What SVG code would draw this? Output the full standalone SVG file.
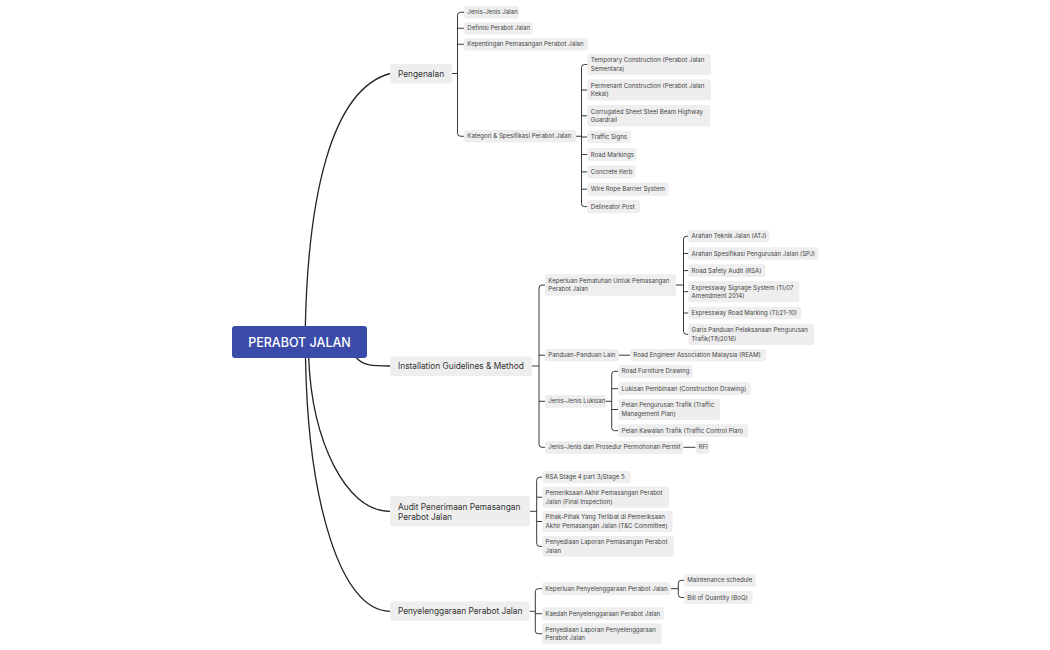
<svg xmlns="http://www.w3.org/2000/svg" width="1050" height="650" viewBox="0 0 1050 650">
<style>
.bg{fill:#ffffff}
.root rect{fill:#3B4BA9}
.root text{fill:#ffffff;font-family:Inter,"Liberation Sans",sans-serif;font-size:12.5px;font-weight:500}
.main rect{fill:#eeeeee}
.main text{fill:#333333;font-family:Inter,"Liberation Sans",sans-serif;font-size:8.3px}
.sub rect{fill:#eeeeee}
.sub text{fill:#444444;font-family:Inter,"Liberation Sans",sans-serif;font-size:6.1px}
#connectors path{fill:none;stroke:#222222;stroke-width:0.9}
#connectors path.big{stroke-width:1.3}
</style>
<rect class="bg" x="0" y="0" width="1050" height="650"/>
<g id="connectors">
<path class="big" d="M305.3,327 C308,200 330,90 390,73.5"/>
<path class="big" d="M356,357.5 C364,366 372,366 390,366"/>
<path class="big" d="M308.7,358 C312,440 345,511.3 390,511.3"/>
<path class="big" d="M305.5,358 C308,500 340,611.3 390,611.3"/>
<!-- Pengenalan -->
<path d="M452,73.5 H457.5 M464,12.25 H460.5 Q457.5,12.25 457.5,15.25 V133.25 Q457.5,136.25 460.5,136.25 H464 M457.5,28.25 H464 M457.5,44.25 H464"/>
<!-- Kategori -->
<path d="M576,136.25 H581.5 M587.3,64.5 H584.5 Q581.5,64.5 581.5,67.5 V203.6 Q581.5,206.6 584.5,206.6 H587.3 M581.5,90 H587.3 M581.5,115.8 H587.3 M581.5,137 H587.3 M581.5,154.5 H587.3 M581.5,171.9 H587.3 M581.5,189.2 H587.3"/>
<!-- Installation -->
<path d="M532,366 H539 M545,285 H542 Q539,285 539,288 V444.3 Q539,447.3 542,447.3 H545 M539,355.2 H545 M539,401.3 H545"/>
<!-- Keperluan Pematuhan -->
<path d="M676,285 H683.5 M688.3,236.2 H686.5 Q683.5,236.2 683.5,239.2 V331.3 Q683.5,334.3 686.5,334.3 H688.3 M683.5,253.5 H688.3 M683.5,270.6 H688.3 M683.5,291.7 H688.3 M683.5,313 H688.3"/>
<path d="M619,355.2 H630"/>
<!-- Lukisan -->
<path d="M606,401.3 H611.7 M618.3,371.3 H614.7 Q611.7,371.3 611.7,374.3 V427.7 Q611.7,430.7 614.7,430.7 H618.3 M611.7,388.7 H618.3 M611.7,409.5 H618.3"/>
<path d="M683.3,447.3 H695.7"/>
<!-- Audit -->
<path d="M530,511.3 H536.7 M542.3,477.2 H539.7 Q536.7,477.2 536.7,480.2 V543.3 Q536.7,546.3 539.7,546.3 H542.3 M536.7,497.2 H542.3 M536.7,521.5 H542.3"/>
<!-- Penyelenggaraan -->
<path d="M529.5,611.3 H535.3 M542,588.7 H538.3 Q535.3,588.7 535.3,591.7 V630.8 Q535.3,633.8 538.3,633.8 H542 M535.3,613.7 H542"/>
<!-- Keperluan Penyelenggaraan -->
<path d="M670.7,588.7 H678.3 M684,580.3 H681.3 Q678.3,580.3 678.3,583.3 V594.5 Q678.3,597.5 681.3,597.5 H684"/>
</g>

<g id="root" class="root"><rect x="232" y="326" width="135" height="32" rx="3"/><text x="299.5" y="346.5" text-anchor="middle">PERABOT JALAN</text></g>

<g id="pengenalan" class="main"><rect x="390" y="64" width="62" height="19.5" rx="3"/><text x="398" y="76.5">Pengenalan</text></g>
<g id="installation" class="main"><rect x="390" y="356.5" width="142" height="19.5" rx="3"/><text x="398" y="369">Installation Guidelines &amp; Method</text></g>
<g id="audit" class="main"><rect x="390" y="496" width="140" height="30.5" rx="3"/><text x="398" y="509.5">Audit Penerimaan Pemasangan</text><text x="398" y="520.2">Perabot Jalan</text></g>
<g id="penyelenggaraan" class="main"><rect x="390" y="601.5" width="139.5" height="19.5" rx="3"/><text x="398" y="614.2">Penyelenggaraan Perabot Jalan</text></g>

<g id="jenis-jalan" class="sub"><rect x="464" y="6" width="55" height="12.5" rx="2.5"/><text x="467.3" y="14.4">Jenis-Jenis Jalan</text></g>
<g id="definisi" class="sub"><rect x="464" y="22" width="68.5" height="12.5" rx="2.5"/><text x="467.3" y="30.4">Definisi Perabot Jalan</text></g>
<g id="kepentingan" class="sub"><rect x="464" y="38" width="124" height="12.5" rx="2.5"/><text x="467.3" y="46.4">Kepentingan Pemasangan Perabot Jalan</text></g>
<g id="kategori" class="sub"><rect x="464" y="130" width="112" height="12.5" rx="2.5"/><text x="467.3" y="138.4">Kategori &amp; Spesifikasi Perabot Jalan</text></g>

<g id="temporary" class="sub"><rect x="587.3" y="54" width="123.7" height="21" rx="2.5"/><text x="590.8" y="62.3">Temporary Construction (Perabot Jalan</text><text x="590.8" y="70.9">Sementara)</text></g>
<g id="permenant" class="sub"><rect x="587.3" y="79.3" width="123.7" height="21.3" rx="2.5"/><text x="590.8" y="87.8">Permenant Construction (Perabot Jalan</text><text x="590.8" y="96.4">Kekal)</text></g>
<g id="corrugated" class="sub"><rect x="587.3" y="105" width="123" height="21.5" rx="2.5"/><text x="590.8" y="113.6">Corrugated Sheet Steel Beam Highway</text><text x="590.8" y="122.2">Guardrail</text></g>
<g id="traffic-signs" class="sub"><rect x="587.3" y="130.7" width="43.4" height="12.6" rx="2.5"/><text x="590.8" y="139.1">Traffic Signs</text></g>
<g id="road-markings" class="sub"><rect x="587.3" y="148" width="49.4" height="13" rx="2.5"/><text x="590.8" y="156.6">Road Markings</text></g>
<g id="concrete-kerb" class="sub"><rect x="587.3" y="165.5" width="48.4" height="12.8" rx="2.5"/><text x="590.8" y="174">Concrete Kerb</text></g>
<g id="wire-rope" class="sub"><rect x="587.3" y="182.7" width="81.4" height="13" rx="2.5"/><text x="590.8" y="191.3">Wire Rope Barrier System</text></g>
<g id="delineator" class="sub"><rect x="587.3" y="200" width="52.7" height="13.3" rx="2.5"/><text x="590.8" y="208.7">Delineator Post</text></g>

<g id="keperluan-pematuhan" class="sub"><rect x="545" y="274.3" width="131" height="21.4" rx="2.5"/><text x="548.3" y="282.8">Keperluan Pematuhan Untuk Pemasangan</text><text x="548.3" y="291.4">Perabot Jalan</text></g>
<g id="panduan" class="sub"><rect x="545" y="349" width="74" height="12.3" rx="2.5"/><text x="548.3" y="357.3">Panduan-Panduan Lain</text></g>
<g id="jenis-lukisan" class="sub"><rect x="545" y="395" width="61" height="12.7" rx="2.5"/><text x="548.3" y="403.4">Jenis-Jenis Lukisan</text></g>
<g id="permit" class="sub"><rect x="545" y="441" width="138.3" height="12.7" rx="2.5"/><text x="548.3" y="449.4">Jenis-Jenis dan Prosedur Permohonan Permit</text></g>

<g id="atj" class="sub"><rect x="688.3" y="230" width="81" height="12.3" rx="2.5"/><text x="691.6" y="238.3">Arahan Teknik Jalan (ATJ)</text></g>
<g id="spj" class="sub"><rect x="688.3" y="247.3" width="130" height="12.4" rx="2.5"/><text x="691.6" y="255.6">Arahan Spesifikasi Pengurusan Jalan (SPJ)</text></g>
<g id="rsa" class="sub"><rect x="688.3" y="264.3" width="77" height="12.7" rx="2.5"/><text x="691.6" y="272.7">Road Safety Audit (RSA)</text></g>
<g id="signage" class="sub"><rect x="688.3" y="281" width="111" height="21.3" rx="2.5"/><text x="691.6" y="289.5">Expressway Signage System (TI/07</text><text x="691.6" y="298.1">Amendment 2014)</text></g>
<g id="road-marking" class="sub"><rect x="688.3" y="306.7" width="113" height="12.6" rx="2.5"/><text x="691.6" y="315.1">Expressway Road Marking (TI/21-10)</text></g>
<g id="garis-panduan" class="sub"><rect x="688.3" y="323.7" width="125.7" height="21.3" rx="2.5"/><text x="691.6" y="332.1">Garis Panduan Pelaksanaan Pengurusan</text><text x="691.6" y="340.7">Trafik(T8/2016)</text></g>

<g id="ream" class="sub"><rect x="630" y="349" width="136" height="12.3" rx="2.5"/><text x="633.3" y="357.3">Road Engineer Association Malaysia (REAM)</text></g>

<g id="road-furniture" class="sub"><rect x="618.3" y="365" width="74.4" height="12.7" rx="2.5"/><text x="621.6" y="373.4">Road Furniture Drawing</text></g>
<g id="lukisan-pembinaan" class="sub"><rect x="618.3" y="382.3" width="132.4" height="12.7" rx="2.5"/><text x="621.6" y="390.8">Lukisan Pembinaan (Construction Drawing)</text></g>
<g id="pelan-pengurusan" class="sub"><rect x="618.3" y="399" width="101.7" height="21" rx="2.5"/><text x="621.6" y="407.3">Pelan Pengurusan Trafik (Traffic</text><text x="621.6" y="415.9">Management Plan)</text></g>
<g id="pelan-kawalan" class="sub"><rect x="618.3" y="424.3" width="130" height="12.7" rx="2.5"/><text x="621.6" y="432.8">Pelan Kawalan Trafik (Traffic Control Plan)</text></g>

<g id="rfi" class="sub"><rect x="695.7" y="441" width="13.6" height="12.7" rx="2.5"/><text x="698.6" y="449.4">RFI</text></g>

<g id="rsa-stage" class="sub"><rect x="542.3" y="471" width="88.4" height="12.3" rx="2.5"/><text x="545.6" y="479.3">RSA Stage 4 part 3/Stage 5</text></g>
<g id="pemeriksaan" class="sub"><rect x="542.3" y="486.7" width="126.7" height="21" rx="2.5"/><text x="545.6" y="495">Pemeriksaan Akhir Pemasangan Perabot</text><text x="545.6" y="503.6">Jalan (Final Inspection)</text></g>
<g id="pihak" class="sub"><rect x="542.3" y="511" width="130.4" height="21" rx="2.5"/><text x="545.6" y="519.3">Pihak-Pihak Yang Terlibat di Pemeriksaan</text><text x="545.6" y="527.9">Akhir Pemasangan Jalan (T&amp;C Committee)</text></g>
<g id="laporan-pemasangan" class="sub"><rect x="542.3" y="536" width="131.7" height="20.7" rx="2.5"/><text x="545.6" y="544.1">Penyediaan Laporan Pemasangan Perabot</text><text x="545.6" y="552.7">Jalan</text></g>

<g id="keperluan-penyelenggaraan" class="sub"><rect x="542" y="582.3" width="128.7" height="12.7" rx="2.5"/><text x="545.3" y="590.8">Keperluan Penyelenggaraan Perabot Jalan</text></g>
<g id="kaedah" class="sub"><rect x="542" y="607.3" width="122" height="12.7" rx="2.5"/><text x="545.3" y="615.8">Kaedah Penyelenggaraan Perabot Jalan</text></g>
<g id="laporan-penyelenggaraan" class="sub"><rect x="542" y="623.3" width="119.7" height="21" rx="2.5"/><text x="545.3" y="631.6">Penyediaan Laporan Penyelenggaraan</text><text x="545.3" y="640.2">Perabot Jalan</text></g>

<g id="maintenance" class="sub"><rect x="684" y="574" width="72" height="12.7" rx="2.5"/><text x="687.3" y="582.4">Maintenance schedule</text></g>
<g id="boq" class="sub"><rect x="684" y="591" width="68.7" height="13" rx="2.5"/><text x="687.3" y="599.6">Bill of Quantity (BoQ)</text></g>
</svg>
